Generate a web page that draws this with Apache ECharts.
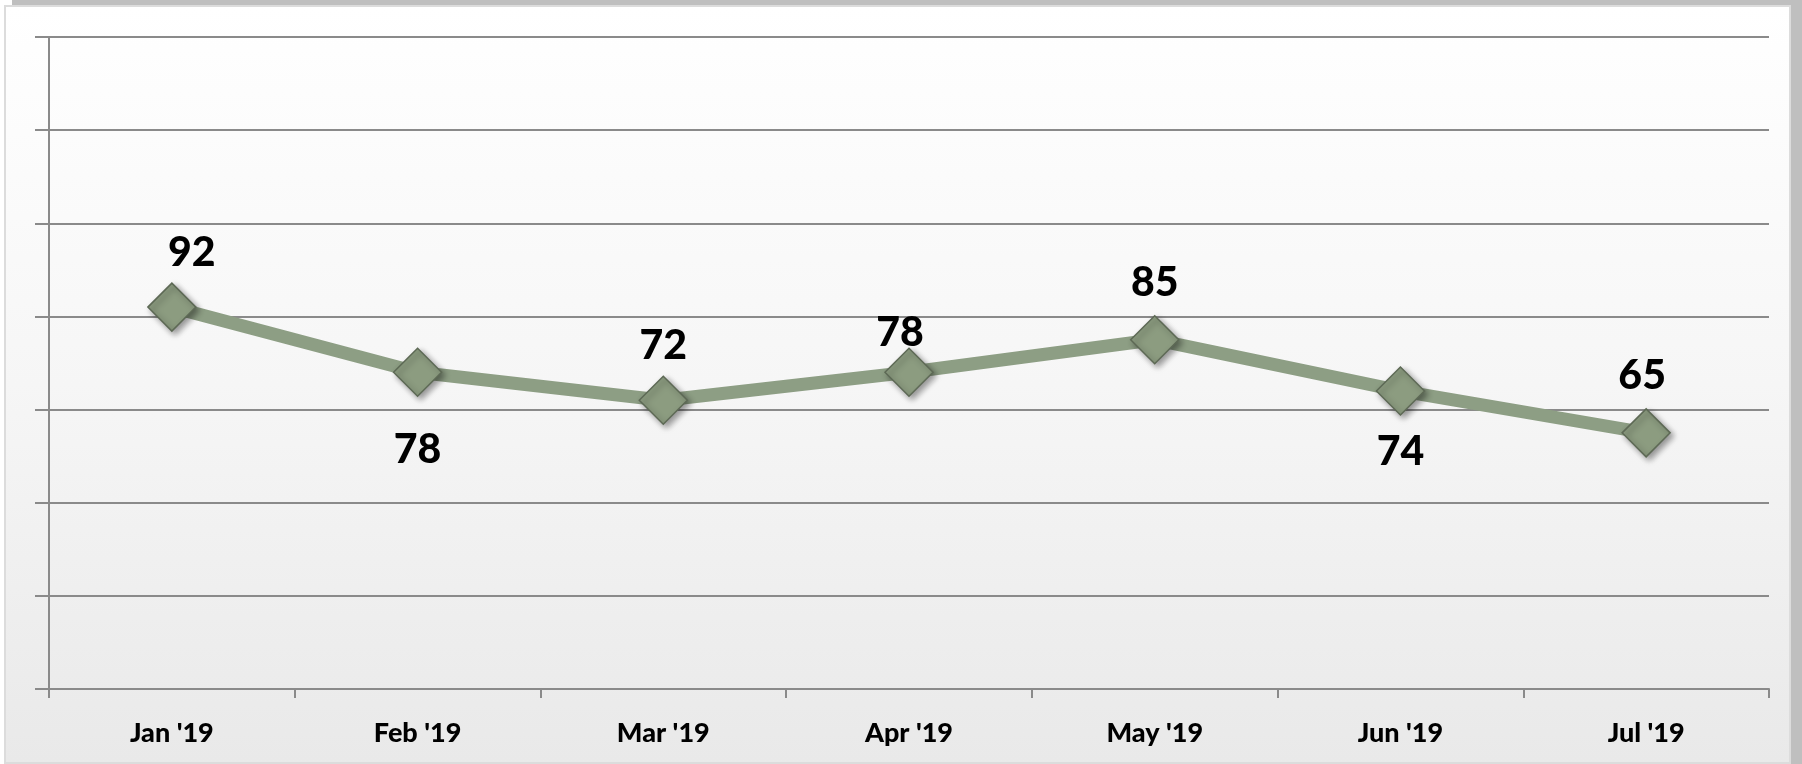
<!DOCTYPE html>
<html>
<head>
<meta charset="utf-8">
<script src="https://cdn.jsdelivr.net/npm/echarts@6/dist/echarts.min.js"></script>
<style>
  html, body { margin: 0; padding: 0; background: #fff; }
  #back {
    position: absolute; left: 12px; top: 0; width: 1790px; height: 764px;
    background: #bfbfbf;
  }
  #panel {
    position: absolute; left: 4px; top: 5px; width: 1783px; height: 755px;
    border: 2px solid #dcdcdc;
    background: linear-gradient(to bottom, #ffffff 0%, #f6f6f6 50%, #e9e9e9 100%);
  }
  #chart { position: absolute; left: 0; top: 0; width: 1802px; height: 764px; }
</style>
</head>
<body>
<div id="back"></div>
<div id="panel"></div>
<div id="chart"></div>
<script>
const months = ["Jan '19", "Feb '19", "Mar '19", "Apr '19", "May '19", "Jun '19", "Jul '19"];
const scores = [92, 78, 72, 78, 85, 74, 65];
const yMin = 10;
const yMax = 150;
const yStep = 20;

// where each value label sits relative to its marker
const labelPlacement = [
    { position: 'top', offset: [20, 1] },
    { position: 'bottom', offset: [0, 22] },
    { position: 'top', offset: [0, 1] },
    { position: 'top', offset: [-9, 16] },
    { position: 'top', offset: [0, -2] },
    { position: 'bottom', offset: [0, 6] },
    { position: 'top', offset: [-4, -2] }
];

window.addEventListener('load', function() {
    renderLineChart();
});

function renderLineChart() {
    const chartDom = document.getElementById('chart');
    const myChart = echarts.init(chartDom);

    const gridColor = '#8a8a8a';

    const option = {
        backgroundColor: 'transparent',
        animation: false,
        grid: {
            left: 49,
            right: 33,
            top: 37,
            bottom: 75,
            containLabel: false
        },
        xAxis: {
            type: 'category',
            data: months,
            boundaryGap: true,
            axisLine: { show: true, lineStyle: { color: gridColor, width: 2 } },
            axisTick: { show: true, length: 9, lineStyle: { color: gridColor, width: 2 } },
            axisLabel: {
                color: '#000',
                fontSize: 27,
                fontWeight: 900,
                fontFamily: 'Lato, sans-serif',
                margin: 31
            },
            splitLine: { show: false }
        },
        yAxis: {
            type: 'value',
            min: yMin,
            max: yMax,
            interval: yStep,
            axisLine: { show: true, lineStyle: { color: gridColor, width: 2 } },
            axisTick: { show: true, length: 14, lineStyle: { color: gridColor, width: 2 } },
            axisLabel: { show: false },
            splitLine: { show: true, lineStyle: { color: gridColor, width: 2 } }
        },
        series: [
            {
                type: 'line',
                data: scores.map((v, i) => ({
                    value: v,
                    label: {
                        position: labelPlacement[i].position,
                        offset: labelPlacement[i].offset
                    }
                })),
                symbol: 'diamond',
                symbolSize: 48,
                lineStyle: { color: '#8d9e84', width: 13 },
                itemStyle: {
                    color: '#8c9c80',
                    borderColor: '#5d6955',
                    borderWidth: 1.5,
                    shadowBlur: 6,
                    shadowOffsetX: 3,
                    shadowOffsetY: 3,
                    shadowColor: 'rgba(0,0,0,0.4)'
                },
                label: {
                    show: true,
                    color: '#000',
                    fontSize: 41,
                    fontWeight: 900,
                    fontFamily: 'Lato, sans-serif',
                    distance: 10
                },
                z: 3
            }
        ]
    };

    myChart.setOption(option);
}
</script>
</body>
</html>
